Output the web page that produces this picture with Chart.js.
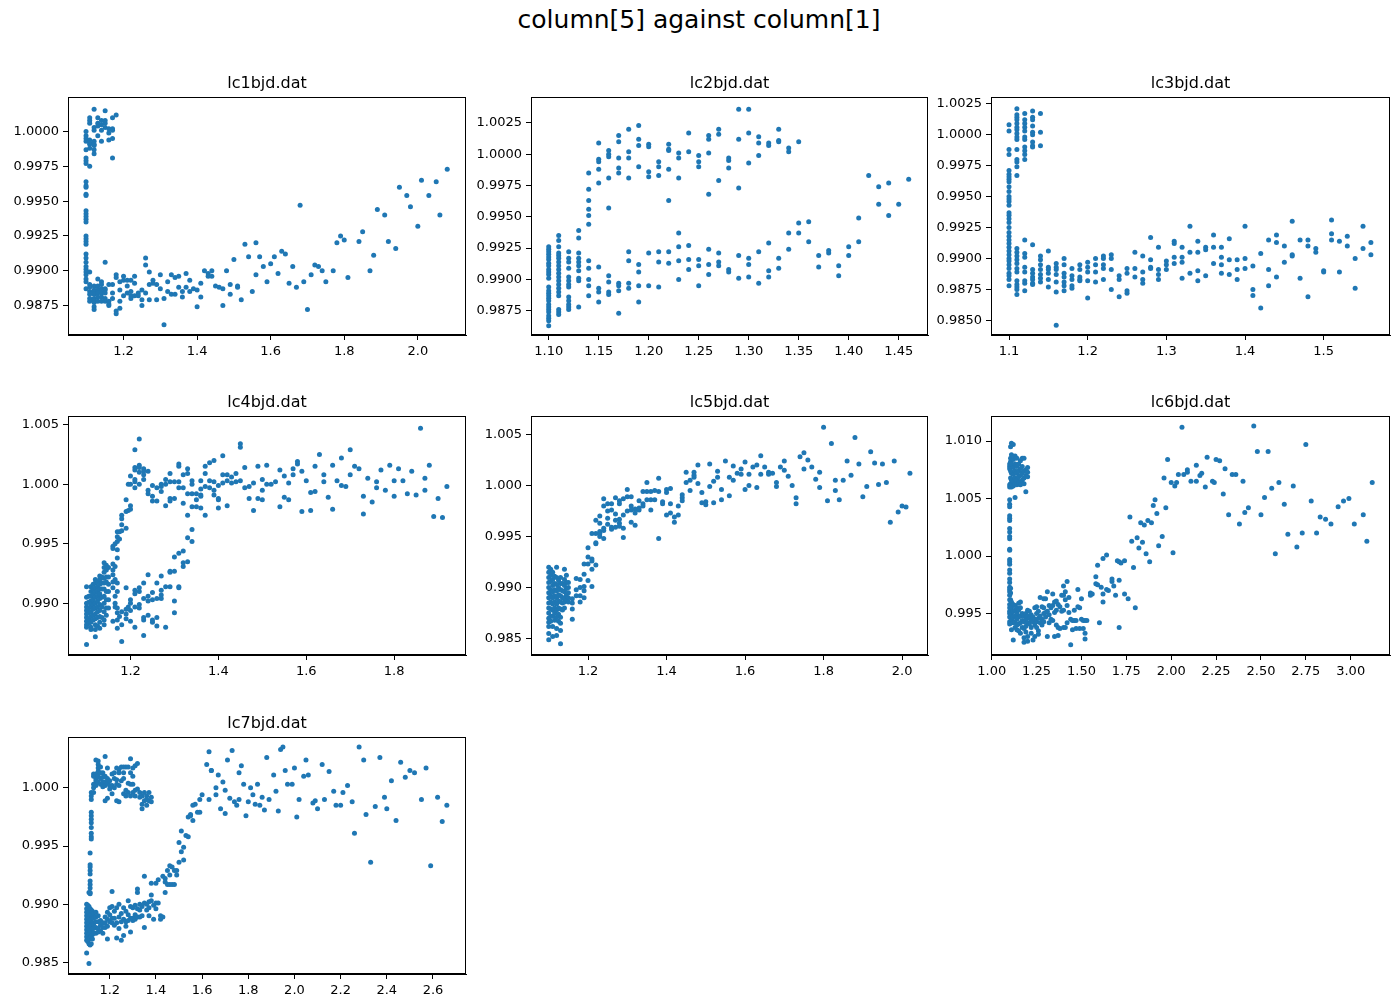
<!DOCTYPE html>
<html>
<head>
<meta charset="utf-8">
<script src="https://cdn.jsdelivr.net/npm/chart.js@4"></script>
<style>
  body { margin: 0; background: #fff; width: 1398px; height: 1008px; position: relative; overflow: hidden; font-family: 'DejaVu Sans', sans-serif; }
  #suptitle { position: absolute; left: 0; width: 1398px; top: 5px; line-height: 30px; text-align: center; font-size: 25px; color: #000; }
  canvas { position: absolute; }
</style>
</head>
<body>
<div id="suptitle">column[5] against column[1]</div>
<script>
// each entry: [column1 value, [column5 values at that x]]
const lc1 = [
  [1.098, [1.0000,0.9997,0.9995,0.9993,0.9987,0.9981,0.9979,0.9977,0.9964,0.9961,0.9960,0.9955,0.9954,0.9943,0.9941,0.9939,0.9937,0.9935,0.9925,0.9923,0.9921,0.9919,0.9912,0.9909,0.9906,0.9903,0.9901,0.9899,0.9897,0.9894,0.9892,0.9887]],
  [1.108, [1.0010,1.0008,1.0006,0.9994,0.9991,0.9988,0.9992,0.9975,0.9899,0.9890,0.9888,0.9885,0.9883,0.9880,0.9878]],
  [1.12, [1.0016,1.0003,1.0001,0.9993,0.9990,0.9987,0.9984,0.9991,0.9889,0.9886,0.9885,0.9883,0.9880,0.9879,0.9877,0.9874,0.9872]],
  [1.13, [1.0010,1.0006,1.0004,0.9997,0.9894,0.9889,0.9886,0.9884,0.9881,0.9878]],
  [1.14, [1.0008,1.0005,1.0001,0.9993,0.9892,0.9890,0.9887,0.9884,0.9881,0.9878]],
  [1.15, [1.0015,1.0008,1.0006,1.0003,0.9906,0.9887,0.9886,0.9884,0.9880,0.9878]],
  [1.16, [1.0002,0.9999,0.9994,0.9890,0.9878,0.9876,0.9875]],
  [1.17, [1.0010,1.0002,1.0001,0.9995,0.9981,0.9890,0.9884,0.9880]],
  [1.18, [1.0012,0.9897,0.9895,0.9871,0.9869]],
  [1.19, [0.9892,0.9886,0.9878,0.9873]], [1.20, [0.9896,0.9893,0.9882]], [1.21, [0.9893,0.9889,0.9884]],
  [1.22, [0.9893,0.9885,0.9882,0.9880]], [1.23, [0.9896,0.9891,0.9882]], [1.24, [0.9884,0.9882]],
  [1.25, [0.9886,0.9879,0.9875]], [1.26, [0.9909,0.9904,0.9884]], [1.27, [0.9899,0.9890,0.9879]],
  [1.28, [0.9893,0.9891]], [1.29, [0.9890,0.9879]], [1.30, [0.9897,0.9887]], [1.31, [0.9880,0.9861]],
  [1.32, [0.9892,0.9885]], [1.33, [0.9897,0.9883]], [1.34, [0.9895,0.9883]], [1.35, [0.9896,0.9888]],
  [1.36, [0.9885,0.9881]], [1.37, [0.9898,0.9888]], [1.38, [0.9893,0.9885]], [1.39, [0.9887]],
  [1.40, [0.9886,0.9874]], [1.41, [0.9891,0.9881]], [1.42, [0.9900]], [1.43, [0.9898,0.9896]],
  [1.44, [0.9900,0.9896]], [1.45, [0.9889]], [1.46, [0.9888]], [1.47, [0.9887,0.9875]], [1.48, [0.9900]],
  [1.49, [0.9890,0.9883]], [1.50, [0.9908]], [1.51, [0.9889,0.9888]], [1.52, [0.9879]], [1.53, [0.9919]],
  [1.54, [0.9910]], [1.55, [0.9885]], [1.56, [0.9920,0.9897]], [1.57, [0.9910]], [1.58, [0.9903]],
  [1.59, [0.9892]], [1.60, [0.9905]], [1.61, [0.9910]], [1.62, [0.9898]], [1.63, [0.9914]], [1.64, [0.9912]],
  [1.65, [0.9891]], [1.66, [0.9903]], [1.67, [0.9888]], [1.68, [0.9947]], [1.69, [0.9892]], [1.70, [0.9872]],
  [1.71, [0.9897]], [1.72, [0.9904]], [1.73, [0.9903]], [1.74, [0.9900]], [1.75, [0.9892]], [1.77, [0.9900]],
  [1.78, [0.9920]], [1.79, [0.9925]], [1.80, [0.9922]], [1.81, [0.9895]], [1.84, [0.9921]], [1.85, [0.9928]],
  [1.87, [0.9900]], [1.88, [0.9911]], [1.89, [0.9944]], [1.91, [0.9940]], [1.92, [0.9921]], [1.94, [0.9916]],
  [1.95, [0.9960]], [1.97, [0.9954]], [1.98, [0.9946]], [2.00, [0.9932]], [2.01, [0.9965]], [2.03, [0.9954]],
  [2.05, [0.9964]], [2.06, [0.9940]], [2.08, [0.9973]]
];

const lc2 = [
  [1.10, [0.9926,0.9924,0.9922,0.9920,0.9918,0.9916,0.9913,0.9911,0.9908,0.9906,0.9904,0.9901,0.9894,0.9891,0.9889,0.9887,0.9885,0.9883,0.9880,0.9878,0.9876,0.9874,0.9871,0.9869,0.9867,0.9863]],
  [1.11, [0.9935,0.9931,0.9926,0.9921,0.9919,0.9917,0.9914,0.9911,0.9908,0.9905,0.9902,0.9899,0.9896,0.9893,0.9890,0.9887,0.9876,0.9874,0.9872]],
  [1.12, [0.9922,0.9917,0.9914,0.9909,0.9902,0.9899,0.9896,0.9894,0.9886,0.9883,0.9880,0.9878,0.9876]],
  [1.13, [0.9939,0.9933,0.9921,0.9917,0.9914,0.9911,0.9907,0.9901,0.9899,0.9878]],
  [1.14, [0.9985,0.9972,0.9963,0.9956,0.9951,0.9944,0.9915,0.9909,0.9900,0.9895,0.9887]],
  [1.15, [1.0009,0.9996,0.9994,0.9988,0.9977,0.9910,0.9893,0.9890,0.9882]],
  [1.16, [1.0003,1.0000,0.9998,0.9981,0.9957,0.9903,0.9898,0.9890,0.9888]],
  [1.17, [1.0015,1.0010,0.9997,0.9989,0.9985,0.9897,0.9895,0.9891,0.9873]],
  [1.18, [1.0020,1.0002,0.9997,0.9981,0.9922,0.9915,0.9897,0.9893]],
  [1.19, [1.0023,1.0012,1.0007,0.9990,0.9912,0.9906,0.9895,0.9882]],
  [1.20, [1.0008,1.0006,0.9986,0.9982,0.9921,0.9895]],
  [1.21, [0.9994,0.9990,0.9983,0.9922,0.9914,0.9894]],
  [1.22, [1.0008,1.0004,1.0003,0.9988,0.9963,0.9922,0.9913]],
  [1.23, [1.0001,0.9997,0.9981,0.9937,0.9926,0.9915,0.9900]],
  [1.24, [1.0017,1.0002,0.9927,0.9916,0.9908]],
  [1.25, [0.9999,0.9994,0.9990,0.9916,0.9911,0.9895]],
  [1.26, [1.0015,1.0012,1.0001,0.9968,0.9924,0.9912,0.9904]],
  [1.27, [1.0020,1.0016,0.9979,0.9921,0.9914,0.9911]],
  [1.28, [0.9997,0.9995,0.9989,0.9908,0.9906]],
  [1.29, [1.0036,1.0012,0.9973,0.9919,0.9901]],
  [1.30, [1.0036,1.0017,0.9993,0.9917,0.9912,0.9902]],
  [1.31, [1.0014,1.0009,0.9999,0.9922,0.9897]],
  [1.32, [1.0009,1.0007,0.9929,0.9907,0.9902]],
  [1.33, [1.0020,1.0011,1.0010,0.9917,0.9909]],
  [1.34, [1.0005,1.0002,0.9937,0.9924]],
  [1.35, [1.0010,0.9945,0.9937]],
  [1.36, [0.9946,0.9930]], [1.37, [0.9919,0.9910]], [1.38, [0.9923,0.9921]], [1.39, [0.9911,0.9903]],
  [1.40, [0.9926,0.9919]], [1.41, [0.9949,0.9930]], [1.42, [0.9983]], [1.43, [0.9974,0.9960]],
  [1.44, [0.9977,0.9951]], [1.45, [0.9960]], [1.46, [0.9980]]
];

const lc3 = [
  [1.10, [1.0008,1.0003,0.9988,0.9984,0.9971,0.9968,0.9966,0.9964,0.9962,0.9958,0.9954,0.9950,0.9948,0.9946,0.9943,0.9937,0.9935,0.9932,0.9929,0.9925,0.9921,0.9918,0.9915,0.9912,0.9909,0.9906,0.9903,0.9900,0.9898,0.9895,0.9892,0.9888,0.9886,0.9883,0.9878]],
  [1.11, [1.0021,1.0016,1.0014,1.0012,1.0009,1.0006,1.0004,1.0001,0.9998,0.9996,0.9988,0.9980,0.9978,0.9974,0.9967,0.9908,0.9905,0.9902,0.9899,0.9896,0.9892,0.9889,0.9882,0.9879,0.9877,0.9875,0.9871]],
  [1.12, [1.0017,1.0012,1.0009,1.0006,1.0003,0.9998,0.9996,0.9990,0.9987,0.9984,0.9980,0.9915,0.9904,0.9901,0.9893,0.9889,0.9882,0.9880,0.9874]],
  [1.13, [1.0019,1.0014,1.0012,1.0007,1.0002,1.0000,0.9994,0.9991,0.9990,0.9911,0.9891,0.9888,0.9885,0.9883,0.9880,0.9879]],
  [1.14, [1.0017,1.0002,0.9991,0.9902,0.9899,0.9895,0.9891,0.9887,0.9884,0.9881]],
  [1.15, [0.9906,0.9893,0.9891,0.9888,0.9883,0.9877]],
  [1.16, [0.9896,0.9893,0.9891,0.9887,0.9881,0.9873,0.9846]],
  [1.17, [0.9900,0.9895,0.9888,0.9885,0.9881,0.9878,0.9874]],
  [1.18, [0.9892,0.9886,0.9883,0.9878,0.9876]],
  [1.19, [0.9895,0.9891,0.9885,0.9883,0.9882]],
  [1.20, [0.9897,0.9893,0.9889,0.9882,0.9868]],
  [1.21, [0.9900,0.9895,0.9889,0.9881]],
  [1.22, [0.9902,0.9900,0.9895,0.9892,0.9883]],
  [1.23, [0.9903,0.9900,0.9891,0.9875]],
  [1.24, [0.9886,0.9883,0.9869]],
  [1.25, [0.9892,0.9888,0.9874,0.9872]],
  [1.26, [0.9905,0.9892,0.9885]],
  [1.27, [0.9902,0.9889,0.9883,0.9880]],
  [1.28, [0.9917,0.9899,0.9893,0.9892]],
  [1.29, [0.9909,0.9891,0.9887,0.9883]],
  [1.30, [0.9898,0.9895,0.9891]],
  [1.31, [0.9914,0.9912,0.9901,0.9896]],
  [1.32, [0.9909,0.9901,0.9897,0.9884]],
  [1.33, [0.9926,0.9905,0.9888]],
  [1.34, [0.9914,0.9905,0.9890,0.9882]],
  [1.35, [0.9909,0.9907,0.9886]],
  [1.36, [0.9919,0.9909,0.9896]],
  [1.37, [0.9909,0.9901,0.9895,0.9888]],
  [1.38, [0.9916,0.9899,0.9887]],
  [1.39, [0.9899,0.9891,0.9883]],
  [1.40, [0.9926,0.9900,0.9892]],
  [1.41, [0.9894,0.9875,0.9870]],
  [1.42, [0.9904,0.9860]],
  [1.43, [0.9915,0.9891,0.9878]],
  [1.44, [0.9919,0.9913,0.9885]],
  [1.45, [0.9910,0.9897]],
  [1.46, [0.9930,0.9903,0.9902]],
  [1.47, [0.9915,0.9884]],
  [1.48, [0.9915,0.9910,0.9869]],
  [1.49, [0.9908,0.9905]],
  [1.50, [0.9890,0.9889]],
  [1.51, [0.9931,0.9920,0.9915]],
  [1.52, [0.9914,0.9889]],
  [1.53, [0.9918,0.9910]],
  [1.54, [0.9900,0.9876]],
  [1.55, [0.9926,0.9908]],
  [1.56, [0.9913,0.9903]]
];

const lc4 = [
  [1.10, [0.9914,0.9905,0.9900,0.9897,0.9894,0.9891,0.9888,0.9885,0.9882,0.9880,0.98655]],
  [1.105, [0.9906,0.9901,0.9896,0.9892,0.9887,0.9883]],
  [1.11, [0.9914,0.9910,0.9906,0.9902,0.9898,0.9893,0.9889,0.9884,0.9880,0.9878]],
  [1.115, [0.9916,0.9912,0.9908,0.9903,0.9899,0.9895,0.9890,0.9886]],
  [1.12, [0.9920,0.9917,0.9913,0.9909,0.9905,0.9900,0.9896,0.9891,0.9887,0.9882,0.9878,0.9872]],
  [1.125, [0.9918,0.9914,0.9910,0.9906,0.9902,0.9897,0.9893,0.9888,0.9881]],
  [1.13, [0.9923,0.9920,0.9916,0.9912,0.9908,0.9904,0.9899,0.9894,0.9889,0.9884,0.9879]],
  [1.135, [0.9922,0.9917,0.9912,0.9905,0.9897,0.9888]],
  [1.14, [0.9934,0.9930,0.9926,0.9921,0.9917,0.9912,0.9906,0.9900,0.9893,0.9886,0.9882]],
  [1.145, [0.9932,0.9928,0.9922,0.9918,0.9910,0.9903,0.9896,0.9890]],
  [1.15, [0.9930,0.9922,0.9916,0.9910,0.9903,0.9896]],
  [1.16, [0.9948,0.9946,0.9933,0.9928,0.9924,0.9918,0.9913,0.9885]],
  [1.165, [0.9950,0.9931,0.9920,0.9906,0.9900,0.9897]],
  [1.17, [0.9960,0.9956,0.9952,0.9945,0.9938,0.9917,0.9910,0.9896,0.9892,0.9886,0.9879]],
  [1.175, [0.9960,0.9954,0.9889]],
  [1.18, [0.9974,0.9971,0.9966,0.9961,0.9893,0.9882,0.9868]],
  [1.19, [0.9987,0.9977,0.9963,0.9913,0.9895,0.9891,0.9887]],
  [1.195, [1.0000,0.9978,0.9897]],
  [1.20, [1.0007,1.0000,0.9982,0.9979,0.9903,0.9900,0.9894,0.9885]],
  [1.21, [1.0029,1.0014,1.0012,1.0004,1.0002,0.9997,0.9911,0.9908,0.9897,0.9880]],
  [1.22, [1.0038,1.0016,1.0014,1.0010,1.0000,0.9913,0.9910,0.9899,0.9896]],
  [1.23, [1.0013,1.0011,1.0008,1.0004,0.9917,0.9904,0.9888,0.9886,0.9873]],
  [1.24, [1.0011,0.9995,0.9992,0.9924,0.9906,0.9902,0.9890]],
  [1.25, [0.9999,0.9990,0.9986,0.9909,0.9903,0.9886,0.9884]],
  [1.26, [0.9997,0.9986,0.9917,0.9904,0.9888,0.9881]],
  [1.27, [1.0000,0.9998,0.9994,0.9923,0.9911,0.9907,0.9904]],
  [1.28, [1.0004,1.0000,0.9982,0.9914,0.9880]],
  [1.29, [1.0009,1.0002,0.9988,0.9986,0.9927,0.9926,0.9914]],
  [1.30, [1.0002,0.9988,0.9939,0.9927,0.9902,0.9892]],
  [1.31, [1.0017,1.0015,1.0002,0.9997,0.9942,0.9914,0.9913]],
  [1.32, [1.0008,0.9997,0.9984,0.9944,0.9934,0.9931]],
  [1.33, [1.0013,1.0009,0.9992,0.9974,0.9955,0.9935]],
  [1.34, [1.0003,1.0000,0.9992,0.9981,0.9962,0.9952]],
  [1.35, [0.9992,0.9987,0.9981]],
  [1.36, [1.0003,0.9996,0.9991,0.9990,0.9980]],
  [1.37, [1.0015,1.0009,0.9998,0.9974]],
  [1.38, [1.0018,1.0003,0.9997]],
  [1.39, [1.0020,1.0002,0.9995,0.9991]],
  [1.40, [0.9999,0.9988,0.9987,0.9980]],
  [1.41, [1.0024,1.0008,1.0001]], [1.42, [1.0008,1.0003,0.9982]], [1.43, [1.0006,1.0001]],
  [1.44, [1.0009,1.0002]], [1.45, [1.0034,1.0031,1.0003]], [1.46, [1.0014,0.9997]], [1.47, [0.9998,0.9988]],
  [1.48, [1.0001,0.9978]], [1.49, [1.0015,0.9988]], [1.50, [1.0004,0.9995,0.9987]], [1.51, [1.0016,1.0000]],
  [1.52, [1.0000]], [1.53, [1.0002]], [1.54, [1.0012,0.9981]], [1.55, [1.0007,0.9989]], [1.56, [1.0001,0.9987]],
  [1.57, [1.0013,1.0008]], [1.58, [1.0019,1.0017]], [1.59, [1.0011,0.9977]], [1.60, [1.0003]],
  [1.61, [0.9993,0.9978]], [1.62, [1.0015,0.9994]], [1.63, [1.0025]], [1.64, [1.0008,1.0002]], [1.65, [0.9989]],
  [1.66, [1.0016,0.9979]], [1.67, [1.0003]], [1.68, [1.0022,0.9999]], [1.69, [0.9998]], [1.70, [1.0029,1.0008]],
  [1.71, [1.0015]], [1.72, [1.0013]], [1.73, [0.9990,0.9975]], [1.74, [1.0005]], [1.75, [0.9985]],
  [1.76, [1.0002,0.9997]], [1.77, [1.0012]], [1.78, [0.9995]], [1.79, [1.0016]], [1.80, [1.0003,0.9990]],
  [1.81, [1.0013]], [1.82, [1.0003]], [1.83, [0.9992]], [1.84, [1.0011]], [1.85, [0.9991]], [1.86, [1.0047]],
  [1.87, [1.0005,0.9995]], [1.88, [1.0016]], [1.89, [0.9973]], [1.90, [0.9988]], [1.91, [0.9972]], [1.92, [0.9998]]
];

const lc5 = [
  [1.10, [0.9920,0.9915,0.9910,0.9905,0.9900,0.9895,0.9890,0.9885,0.9880,0.9875,0.9870,0.9866,0.9862,0.9855,0.9849]],
  [1.105, [0.9918,0.9912,0.9906,0.9898,0.9892,0.9886,0.9879,0.9872,0.9867]],
  [1.11, [0.9915,0.9908,0.9902,0.9896,0.9890,0.9884,0.9878,0.9872,0.9862,0.9852]],
  [1.115, [0.9911,0.9904,0.9898,0.9892,0.9886,0.9880,0.9875,0.9868]],
  [1.12, [0.9920,0.9910,0.9903,0.9897,0.9890,0.9884,0.9878,0.9871,0.9860,0.9853]],
  [1.125, [0.9907,0.9900,0.9893,0.9887,0.9880,0.9874,0.9867]],
  [1.13, [0.9910,0.9904,0.9898,0.9892,0.9886,0.9879,0.9871,0.9865,0.9858,0.9845]],
  [1.135, [0.9904,0.9897,0.9890,0.9885,0.9878]],
  [1.14, [0.9918,0.9908,0.9902,0.9896,0.9890,0.9886,0.9880]],
  [1.145, [0.9912,0.9905,0.9899,0.9893,0.9887]],
  [1.15, [0.9905,0.9900,0.9895,0.9890,0.9886]],
  [1.16, [0.9889,0.9885,0.9879,0.9869]],
  [1.17, [0.9909,0.9898,0.9892]],
  [1.18, [0.9908,0.9900,0.9892,0.9886]],
  [1.19, [0.9923,0.9913,0.9901,0.9897,0.9890]],
  [1.20, [0.9939,0.9930,0.9923,0.9907]],
  [1.21, [0.9953,0.9928,0.9926,0.9918,0.9901]],
  [1.22, [0.9966,0.9953,0.9944,0.9943,0.9922]],
  [1.23, [0.9970,0.9963,0.9955,0.9953,0.9950]],
  [1.24, [0.9987,0.9980,0.9958,0.9956,0.9948]],
  [1.25, [0.9982,0.9975,0.9968,0.9962]],
  [1.26, [0.9982,0.9976,0.9959,0.9957]],
  [1.27, [0.9988,0.9972,0.9966,0.9959]],
  [1.28, [0.9985,0.9982,0.9967,0.9963,0.9960]],
  [1.29, [0.9987,0.9971,0.9958,0.9949]],
  [1.30, [0.9996,0.9989,0.9975]],
  [1.31, [0.9989,0.9980,0.9976,0.9964]],
  [1.32, [0.9977,0.9973,0.9961]],
  [1.33, [0.9985,0.9978,0.9976]],
  [1.34, [0.9994,0.9982,0.9980]],
  [1.35, [1.0003,0.9994,0.9986]],
  [1.36, [0.9994,0.9986,0.9976]],
  [1.37, [0.9995,0.9986]], [1.38, [1.0007,0.9994,0.9948]], [1.39, [0.9984,0.9982]],
  [1.40, [0.9996,0.9993,0.9971]], [1.41, [0.9997,0.9982,0.9973]], [1.42, [0.9969,0.9964]],
  [1.43, [0.9980,0.9971]], [1.44, [0.9991,0.9988,0.9985]], [1.45, [1.0013,1.0003]], [1.46, [1.0005,0.9995]],
  [1.47, [1.0013,1.0010,1.0008]], [1.48, [1.0020,1.0002]], [1.49, [0.9993,0.9983]], [1.50, [0.9984,0.9981]],
  [1.51, [1.0021,0.9999]], [1.52, [1.0004,0.9983]], [1.53, [1.0014,1.0008]], [1.54, [0.9996,0.9986]],
  [1.55, [1.0024]], [1.56, [1.0008,0.9990]], [1.57, [1.0019,1.0005]], [1.58, [1.0012]], [1.59, [1.0016,1.0011]],
  [1.60, [1.0023,0.9996]], [1.61, [1.0011,1.0000]], [1.62, [1.0018]], [1.63, [1.0020,0.9998]],
  [1.64, [1.0029,1.0011]], [1.65, [1.0018]], [1.66, [1.0013,1.0011]], [1.67, [1.0012]], [1.68, [1.0003,0.9999]],
  [1.69, [1.0018]], [1.70, [1.0024,1.0015]], [1.71, [1.0009]], [1.72, [1.0000]], [1.73, [0.9988,0.9982]],
  [1.74, [1.0028]], [1.75, [1.0032,1.0016]], [1.76, [1.0025]], [1.77, [1.0018]], [1.78, [1.0006]],
  [1.79, [1.0013,0.9998]], [1.80, [1.0057]], [1.81, [0.9985]], [1.82, [1.0041]], [1.83, [1.0005,0.9995]],
  [1.84, [0.9986]], [1.85, [1.0005]], [1.86, [1.0024]], [1.87, [1.0010]], [1.88, [1.0047]], [1.89, [1.0021]],
  [1.90, [0.9989]], [1.91, [0.9999]], [1.92, [1.0033]], [1.93, [1.0022]], [1.94, [1.0001]], [1.95, [1.0021]],
  [1.96, [1.0003]], [1.97, [0.9964]], [1.98, [1.0024]], [1.99, [0.9974]], [2.00, [0.9980]], [2.01, [0.9979]],
  [2.02, [1.0012]]
];

const lc6 = [
  [1.10, [1.0080,1.0078,1.0076,1.0062,1.0060,1.0049,1.0045,1.0043,1.0035,1.0033,1.0031,1.0024,1.0021,1.0017,1.0015,1.0006,1.0005,0.9997,0.9995,0.9993,0.9988,0.9985,0.9980,0.9977,0.9973,0.9971,0.9969,0.9966,0.9962,0.9958,0.9955,0.9952,0.9950,0.9947,0.9943,0.9941]],
  [1.105, [1.0095,1.0085,1.0082,1.0074,1.0068,1.0063,0.9972,0.9968,0.9962,0.9958,0.9953,0.9949]],
  [1.11, [1.0098,1.0088,1.0080,1.0072,1.0066,1.0060,1.0062,0.9960,0.9955,0.9950,0.9945,0.9936]],
  [1.12, [1.0097,1.0084,1.0077,1.0071,1.0065,1.0061,0.9958,0.9952,0.9947,0.9942,0.9927]],
  [1.13, [1.0087,1.0080,1.0074,1.0068,1.0063,1.0051,0.9957,0.9953,0.9948,0.9943,0.9938]],
  [1.14, [1.0085,1.0078,1.0072,1.0066,1.0062,0.9955,0.9950,0.9945,0.9940,0.9936]],
  [1.15, [1.0080,1.0074,1.0069,1.0064,0.9959,0.9953,0.9947,0.9941,0.9935]],
  [1.16, [1.0083,1.0076,1.0070,1.0065,1.0062,0.9960,0.9955,0.9948,0.9942,0.9933]],
  [1.17, [1.0085,1.0078,1.0072,1.0066,0.9950,0.9944,0.9938]],
  [1.18, [1.0085,1.0074,1.0068,1.0063,0.9948,0.9943,0.9937,0.9925,0.9929]],
  [1.19, [1.0075,1.0070,1.0056,0.9950,0.9945,0.9939,0.9934]],
  [1.20, [1.0077,1.0073,1.0069,0.9953,0.9948,0.9942,0.9930,0.9926]],
  [1.21, [0.9952,0.9946,0.9941]], [1.22, [0.9949,0.9944,0.9938,0.9933]], [1.23, [0.9947,0.9943,0.9927]],
  [1.24, [0.9955,0.9945,0.9940,0.9930]], [1.25, [0.9956,0.9950,0.9943,0.9938]], [1.26, [0.9952,0.9946,0.9935,0.9932]],
  [1.27, [0.9964,0.9948,0.9942]], [1.28, [0.9956,0.9945,0.9940]], [1.29, [0.9963,0.9955,0.9950,0.9943]],
  [1.30, [0.9963,0.9951,0.9947]], [1.31, [0.9969,0.9952,0.9930]], [1.32, [0.9957,0.9949,0.9942]],
  [1.33, [0.9955,0.9945]], [1.34, [0.9967,0.9957,0.9944]], [1.35, [0.9960,0.9951,0.9930]],
  [1.36, [0.9961,0.9953,0.9940]], [1.37, [0.9958,0.9938,0.9931]], [1.38, [0.9956,0.9937]], [1.39, [0.9966,0.9952]],
  [1.40, [0.9974,0.9966,0.9953,0.9938]], [1.41, [0.9969,0.9962,0.9938]], [1.42, [0.9978,0.9957,0.9942]],
  [1.43, [0.9964,0.9951]], [1.44, [0.9945,0.9923]], [1.45, [0.9944,0.9936]], [1.46, [0.9953,0.9944]],
  [1.47, [0.9944,0.9937]], [1.48, [0.9971,0.9956]], [1.49, [0.9955,0.9937]], [1.50, [0.9963,0.9945]],
  [1.51, [0.9944,0.9937]], [1.52, [0.9944,0.9933,0.9928]], [1.53, [0.9944]], [1.55, [0.9968,0.9966]],
  [1.56, [0.9967]], [1.58, [0.9982,0.9976]], [1.59, [0.9992,0.9975]], [1.60, [0.9942]], [1.61, [0.9973]],
  [1.62, [0.9998,0.9967,0.9960]], [1.64, [1.0001,0.9971]], [1.65, [0.9970]], [1.67, [0.9980,0.9978]],
  [1.68, [0.9974]], [1.69, [0.9966]], [1.70, [0.9996]], [1.71, [0.9995,0.9979,0.9938]], [1.72, [0.9994]],
  [1.74, [0.9996,0.9967]], [1.76, [0.9963]], [1.77, [1.0034]], [1.78, [1.0013]], [1.79, [0.9990]],
  [1.80, [0.9955]], [1.81, [1.0016]], [1.82, [1.0007]], [1.83, [1.0029]], [1.84, [1.0012]], [1.85, [1.0027]],
  [1.86, [1.0002]], [1.87, [1.0031]], [1.88, [0.9995]], [1.89, [1.0029]], [1.90, [1.0044]], [1.91, [1.0049]],
  [1.92, [1.0037]], [1.93, [1.0009]], [1.95, [1.0017]], [1.96, [1.0068]], [1.97, [1.0042]], [1.98, [1.0084]],
  [2.00, [1.0064]], [2.01, [1.0003]], [2.02, [1.0061]], [2.03, [1.0064]], [2.04, [1.0071]], [2.06, [1.0112]],
  [2.07, [1.0071]], [2.09, [1.0075,1.0073]], [2.11, [1.0065]], [2.14, [1.0079,1.0065]], [2.16, [1.0070]],
  [2.17, [1.0072]], [2.19, [1.0060]], [2.20, [1.0086]], [2.23, [1.0065]], [2.24, [1.0064]], [2.25, [1.0084]],
  [2.27, [1.0083]], [2.29, [1.0054]], [2.30, [1.0076]], [2.32, [1.0036]], [2.34, [1.0071]], [2.36, [1.0071]],
  [2.38, [1.0028]], [2.40, [1.0065]], [2.41, [1.0038]], [2.43, [1.0042]], [2.46, [1.0113]], [2.48, [1.0091]],
  [2.50, [1.0036]], [2.52, [1.0051]], [2.54, [1.0091]], [2.56, [1.0059]], [2.58, [1.0002]], [2.60, [1.0064]],
  [2.63, [1.0045]], [2.65, [1.0019]], [2.68, [1.0061]], [2.70, [1.0008]], [2.73, [1.0020]], [2.75, [1.0097]],
  [2.78, [1.0048]], [2.81, [1.0020]], [2.83, [1.0034]], [2.86, [1.0032]], [2.89, [1.0028]], [2.93, [1.0043]],
  [2.96, [1.0048]], [2.99, [1.0050]], [3.02, [1.0028]], [3.07, [1.0036]], [3.09, [1.0013]], [3.12, [1.0064]]
];

const lc7 = [
  [1.10, [0.9900,0.9896,0.9893,0.9890,0.9887,0.9884,0.9881,0.9878,0.9875,0.9872,0.9869,0.9858]],
  [1.105, [0.9899,0.9894,0.9889,0.9885,0.9880,0.9876,0.9872,0.9868]],
  [1.11, [0.9910,0.9898,0.9893,0.9888,0.9884,0.9879,0.9875,0.9870,0.9866,0.9849]],
  [1.115, [0.9944,0.9934,0.9932,0.9929,0.9926,0.9920,0.9917,0.9914,0.9909,0.9910,0.9896,0.9891,0.9886,0.9881,0.9876,0.9871,0.9865]],
  [1.12, [0.9996,0.9993,0.9990,0.9979,0.9976,0.9973,0.9970,0.9966,0.9961,0.9958,0.9956,0.9895,0.9891,0.9887,0.9882,0.9877,0.9872,0.9866]],
  [1.125, [0.9894,0.9889,0.9884,0.9879,0.9874,0.9870]],
  [1.13, [1.0012,1.0010,1.0003,1.0000,0.9996,0.9892,0.9888,0.9883,0.9879,0.9875]],
  [1.14, [1.0024,1.0012,1.0008,1.0006,1.0002,0.9893,0.9889,0.9885,0.9880,0.9875]],
  [1.15, [1.0023,1.0020,1.0017,1.0014,1.0010,1.0005,0.9890,0.9885,0.9879,0.9876]],
  [1.16, [1.0018,1.0013,1.0008,1.0003,0.9886,0.9882,0.9877]],
  [1.17, [1.0013,1.0009,1.0005,1.0001,0.9884,0.9880,0.9875]],
  [1.18, [1.0027,1.0010,1.0005,1.0002,0.9989,0.9889,0.9884,0.9880]],
  [1.19, [1.0017,1.0008,1.0004,0.9991,0.9893,0.9887,0.9881,0.9870]],
  [1.20, [1.0006,1.0002,0.9999,0.9897,0.9891,0.9885]],
  [1.21, [1.0012,1.0002,0.9995,0.9911,0.9898,0.9888,0.9884]],
  [1.22, [1.0013,1.0008,1.0000,0.9894,0.9888,0.9882]],
  [1.23, [1.0017,1.0007,1.0003,0.9989,0.9897,0.9884,0.9871]],
  [1.24, [1.0016,1.0013,1.0002,0.9988,0.9900,0.9889,0.9879]],
  [1.25, [1.0018,1.0006,0.9892,0.9885,0.9869]],
  [1.26, [1.0018,1.0013,1.0008,0.9995,0.9897,0.9887,0.9873]],
  [1.27, [1.0018,0.9998,0.9993,0.9894,0.9885,0.9881]],
  [1.28, [1.0018,1.0004,0.9996,0.9903,0.9891,0.9886]],
  [1.29, [1.0025,1.0013,1.0003,0.9993,0.9898,0.9888,0.9876]],
  [1.30, [1.0017,1.0010,1.0003,0.9996,0.9897,0.9888,0.9886]],
  [1.31, [1.0019,0.9998,0.9993,0.9899,0.9891,0.9887]],
  [1.32, [1.0021,0.9999,0.9913,0.9910,0.9896,0.9889]],
  [1.33, [0.9996,0.9992,0.9900,0.9895,0.9889]],
  [1.34, [0.9993,0.9986,0.9982,0.9898,0.9890]],
  [1.35, [0.9996,0.9989,0.9924,0.9901,0.9880]],
  [1.36, [0.9993,0.9990,0.9985,0.9900,0.9895]],
  [1.37, [0.9996,0.9989,0.9902,0.9897,0.9890]],
  [1.38, [0.9992,0.9988,0.9918,0.9908,0.9903]],
  [1.39, [0.9899,0.9887]], [1.40, [0.9918,0.9901,0.9896]], [1.41, [0.9921,0.9901]], [1.42, [0.9890,0.9887]],
  [1.43, [0.9924,0.9889]], [1.44, [0.9922,0.9919,0.9910]], [1.45, [0.9929,0.9917]], [1.46, [0.9933,0.9925,0.9917]],
  [1.47, [0.9932,0.9917]], [1.48, [0.9929,0.9917]], [1.49, [0.9929,0.9925]], [1.50, [0.9953,0.9936]],
  [1.51, [0.9963,0.9945]], [1.52, [0.9949,0.9938]], [1.53, [0.9959]], [1.54, [0.9975,0.9958]],
  [1.55, [0.9977,0.9976]], [1.56, [0.9985,0.9972]], [1.57, [0.9986]], [1.58, [0.9979]], [1.59, [0.9990,0.9979]],
  [1.60, [0.9994]], [1.62, [1.0020]], [1.63, [1.0031,0.9990]], [1.64, [1.0015,1.0015]], [1.66, [1.0000,0.9994]],
  [1.67, [1.0011]], [1.68, [0.9982]], [1.69, [1.0005]], [1.70, [0.9998,0.9978]], [1.71, [1.0024]], [1.72, [0.9991]],
  [1.73, [1.0032]], [1.74, [0.9988]], [1.75, [0.9985]], [1.76, [1.0013,0.9990]], [1.77, [1.0019]], [1.78, [1.0003]],
  [1.79, [0.9976]], [1.80, [0.9988]], [1.81, [1.0000]], [1.82, [0.9994]], [1.83, [0.9986]], [1.84, [1.0003]],
  [1.85, [0.9985]], [1.86, [0.9992]], [1.87, [0.9981]], [1.88, [1.0026]], [1.89, [0.9990]], [1.91, [1.0011]],
  [1.92, [0.9997]], [1.93, [0.9980]], [1.94, [1.0033]], [1.95, [1.0035]], [1.96, [1.0015]], [1.97, [1.0003]],
  [1.99, [1.0003]], [2.00, [1.0017]], [2.01, [0.9975]], [2.02, [0.9990]], [2.04, [1.0010]], [2.05, [1.0024]],
  [2.06, [1.0011]], [2.08, [0.9987]], [2.09, [0.9989]], [2.10, [0.9982]], [2.12, [1.0020]], [2.13, [0.9990]],
  [2.15, [1.0014]], [2.17, [0.9997]], [2.18, [0.9985]], [2.20, [0.9985]], [2.21, [0.9996]], [2.23, [1.0002]],
  [2.25, [0.9988]], [2.26, [0.9961]], [2.28, [1.0035]], [2.30, [1.0024]], [2.31, [0.9977]], [2.33, [0.9936]],
  [2.35, [0.9984]], [2.37, [1.0026]], [2.39, [0.9992]], [2.40, [0.9982]], [2.42, [1.0006]], [2.44, [0.9972]],
  [2.46, [1.0022]], [2.48, [1.0009]], [2.50, [1.0015]], [2.52, [1.0013]], [2.55, [0.9990]], [2.57, [1.0017]],
  [2.59, [0.9933]], [2.62, [0.9992]], [2.64, [0.9971]], [2.66, [0.9985]]
];

// tick labels shown on each axis
const lc1XTicks = [1.2, 1.4, 1.6, 1.8, 2.0];
const lc1YTicks = [0.9875, 0.99, 0.9925, 0.995, 0.9975, 1.0];
const lc2XTicks = [1.10, 1.15, 1.20, 1.25, 1.30, 1.35, 1.40, 1.45];
const lc2YTicks = [0.9875, 0.99, 0.9925, 0.995, 0.9975, 1.0, 1.0025];
const lc3XTicks = [1.1, 1.2, 1.3, 1.4, 1.5];
const lc3YTicks = [0.985, 0.9875, 0.99, 0.9925, 0.995, 0.9975, 1.0, 1.0025];
const lc4XTicks = [1.2, 1.4, 1.6, 1.8];
const lc4YTicks = [0.990, 0.995, 1.000, 1.005];
const lc5XTicks = [1.2, 1.4, 1.6, 1.8, 2.0];
const lc5YTicks = [0.985, 0.990, 0.995, 1.000, 1.005];
const lc6XTicks = [1.00, 1.25, 1.50, 1.75, 2.00, 2.25, 2.50, 2.75, 3.00];
const lc6YTicks = [0.995, 1.000, 1.005, 1.010];
const lc7XTicks = [1.2, 1.4, 1.6, 1.8, 2.0, 2.2, 2.4, 2.6];
const lc7YTicks = [0.985, 0.990, 0.995, 1.000];

const panels = [
  { title: 'lc1bjd.dat', cols: lc1, box: [68, 97, 398, 238], xr: [1.049, 2.131], yr: [0.98537, 1.00249], xt: lc1XTicks, yt: lc1YTicks, xd: 1, yd: 4 },
  { title: 'lc2bjd.dat', cols: lc2, box: [531, 97, 397, 238], xr: [1.0823, 1.4793], yr: [0.98556, 1.00457], xt: lc2XTicks, yt: lc2YTicks, xd: 2, yd: 4 },
  { title: 'lc3bjd.dat', cols: lc3, box: [991, 97, 399, 238], xr: [1.0771, 1.5843], yr: [0.98382, 1.00304], xt: lc3XTicks, yt: lc3YTicks, xd: 1, yd: 4 },
  { title: 'lc4bjd.dat', cols: lc4, box: [68, 416, 398, 239], xr: [1.0578, 1.9635], yr: [0.98566, 1.00573], xt: lc4XTicks, yt: lc4YTicks, xd: 1, yd: 3 },
  { title: 'lc5bjd.dat', cols: lc5, box: [531, 416, 397, 239], xr: [1.0548, 2.066], yr: [0.9834, 1.0068], xt: lc5XTicks, yt: lc5YTicks, xd: 1, yd: 3 },
  { title: 'lc6bjd.dat', cols: lc6, box: [991, 416, 399, 239], xr: [0.996, 3.219], yr: [0.9914, 1.01218], xt: lc6XTicks, yt: lc6YTicks, xd: 2, yd: 3 },
  { title: 'lc7bjd.dat', cols: lc7, box: [68, 737, 398, 237], xr: [1.0192, 2.743], yr: [0.984, 1.00437], xt: lc7XTicks, yt: lc7YTicks, xd: 1, yd: 3 }
];

const PAD_L = 80, PAD_T = 34, PAD_R = 14, PAD_B = 32;
const FONT = 'DejaVu Sans';

const toPoints = cols => cols.flatMap(([x, ys]) => ys.map(y => ({ x: x, y: y })));

// frame on all four sides plus the subplot title
const framePlugin = {
  id: 'frame',
  afterDraw(chart) {
    const a = chart.chartArea;
    const ctx = chart.ctx;
    ctx.save();
    ctx.strokeStyle = '#000';
    ctx.lineWidth = 1;
    ctx.strokeRect(Math.round(a.left) + 0.5, Math.round(a.top) + 0.5, Math.round(a.right - a.left) - 1, Math.round(a.bottom - a.top) - 1);
    ctx.fillStyle = '#000';
    ctx.font = '16px "' + FONT + '"';
    ctx.textAlign = 'center';
    ctx.textBaseline = 'middle';
    ctx.fillText(chart.options.plugins.frame.title, (a.left + a.right) / 2, a.top - 13.5);
    ctx.restore();
  }
};

function axis(range, ticks, dec, isX) {
  return {
    type: 'linear',
    min: range[0],
    max: range[1],
    afterBuildTicks: s => { s.ticks = ticks.map(v => ({ value: v })); },
    afterFit: s => { if (isX) s.height = PAD_B; else s.width = PAD_L; },
    ticks: {
      autoSkip: false,
      maxRotation: 0,
      padding: 4,
      color: '#000',
      font: { family: FONT, size: 13 },
      callback: v => Number(v).toFixed(dec)
    },
    grid: { drawOnChartArea: false, drawTicks: true, tickLength: 5, tickColor: '#000', tickWidth: 1 },
    border: { display: true, color: '#000', width: 1 }
  };
}

panels.forEach(p => {
  const [l, t, w, h] = p.box;
  const canvas = document.createElement('canvas');
  canvas.width = w + PAD_L + PAD_R;
  canvas.height = h + PAD_T + PAD_B;
  canvas.style.left = (l - PAD_L) + 'px';
  canvas.style.top = (t - PAD_T) + 'px';
  document.body.appendChild(canvas);

  new Chart(canvas.getContext('2d'), {
    type: 'scatter',
    data: {
      datasets: [{
        data: toPoints(p.cols),
        backgroundColor: '#1f77b4',
        borderWidth: 0,
        pointRadius: 2.5,
        pointHoverRadius: 2.5
      }]
    },
    options: {
      responsive: false,
      animation: false,
      devicePixelRatio: 1,
      layout: { padding: { left: 0, top: PAD_T, right: PAD_R, bottom: 0 } },
      plugins: {
        legend: { display: false },
        tooltip: { enabled: false },
        frame: { title: p.title }
      },
      scales: {
        x: axis(p.xr, p.xt, p.xd, true),
        y: axis(p.yr, p.yt, p.yd, false)
      }
    },
    plugins: [framePlugin]
  });
});
</script>
</body>
</html>
